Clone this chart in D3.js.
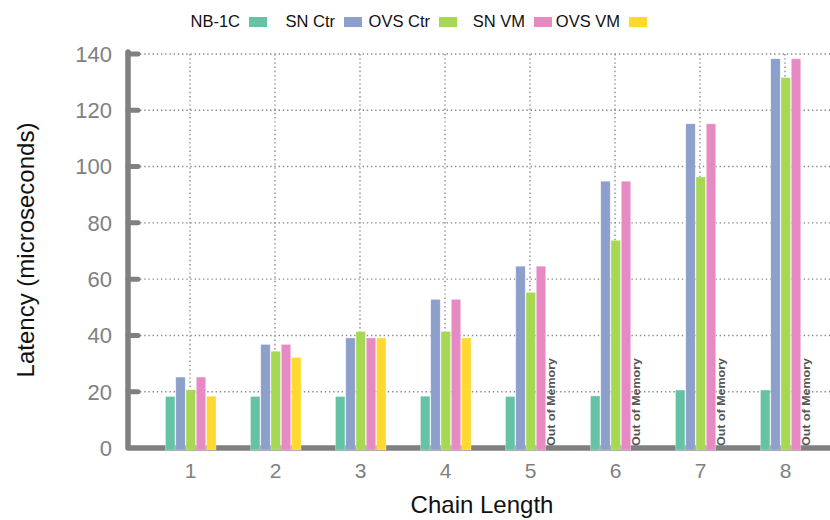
<!DOCTYPE html>
<html>
<head>
<meta charset="utf-8">
<script src="https://cdn.jsdelivr.net/npm/d3@7"></script>
<style>
  html, body { margin: 0; padding: 0; background: #fff; }
  svg { display: block; }
  text { font-family: "Liberation Sans", Arial, Helvetica, sans-serif; }
</style>
</head>
<body>
<svg id="chart" width="830" height="520"></svg>
<script>
const categories = ["1", "2", "3", "4", "5", "6", "7", "8"];
const seriesNames = ["NB-1C", "SN Ctr", "OVS Ctr", "SN VM", "OVS VM"];
const seriesColors = ["#66c2a5", "#8da0cb", "#a6d854", "#e78ac3", "#ffd92f"];
const nb1c   = [18.3, 18.3, 18.3, 18.4, 18.3, 18.5, 20.6, 20.6];
const snCtr  = [25.2, 36.8, 39.1, 52.8, 64.6, 94.8, 115.2, 138.3];
const ovsCtr = [20.7, 34.4, 41.4, 41.4, 55.3, 73.8, 96.3, 131.6];
const snVm   = [25.2, 36.8, 39.1, 52.8, 64.6, 94.8, 115.2, 138.3];
const ovsVm  = [18.4, 32.2, 39.1, 39.1, null, null, null, null];
const yTicks = [0, 20, 40, 60, 80, 100, 120, 140];
const missingLabel = "Out of Memory";

const seriesValues = [nb1c, snCtr, ovsCtr, snVm, ovsVm];

const svg = d3.select("#chart");
const gray = "#808080";

const y = d3.scaleLinear().domain([0, 140]).range([448, 54]);
const x = d3.scaleBand().domain(categories).range([147.5, 827.5]).padding(0);
const xs = d3.scaleBand().domain(seriesNames).range([-24.5, 26]).paddingInner(0.08);

// grid
const grid = svg.append("g");
grid.selectAll("line.h").data(yTicks.filter(d => d > 0)).join("line")
  .attr("x1", 140).attr("x2", 830)
  .attr("y1", d => y(d)).attr("y2", d => y(d))
  .attr("stroke", "#8a8a8a").attr("stroke-width", 1.4)
  .attr("stroke-dasharray", "1.4,2.8");
grid.selectAll("line.v").data(categories).join("line")
  .attr("x1", d => x(d) + x.bandwidth() / 2).attr("x2", d => x(d) + x.bandwidth() / 2)
  .attr("y1", y(140)).attr("y2", y(0))
  .attr("stroke", "#8a8a8a").attr("stroke-width", 1.4)
  .attr("stroke-dasharray", "1.4,2.8");

// axes (thick gray)
const axisG = svg.append("g");
axisG.append("path")
  .attr("d", `M128,${y(140) - 2}L128,${y(0)}L835,${y(0)}`)
  .attr("fill", "none").attr("stroke", gray).attr("stroke-width", 5.5)
  .attr("stroke-linecap", "round").attr("stroke-linejoin", "round");
axisG.selectAll("line.tick").data(yTicks.filter(d => d > 0)).join("line")
  .attr("x1", 128).attr("x2", 138)
  .attr("y1", d => y(d)).attr("y2", d => y(d))
  .attr("stroke", gray).attr("stroke-width", 5).attr("stroke-linecap", "round");
axisG.selectAll("text.ytick").data(yTicks).join("text")
  .attr("x", 112).attr("y", d => y(d)).attr("dy", "0.36em")
  .attr("text-anchor", "end").attr("fill", gray)
  .attr("font-size", 22).text(d => d);
axisG.selectAll("text.xtick").data(categories).join("text")
  .attr("x", d => x(d) + x.bandwidth() / 2 + 0.5).attr("y", 478)
  .attr("text-anchor", "middle").attr("fill", gray)
  .attr("font-size", 21).text(d => d);

// bars
const groups = svg.append("g").selectAll("g").data(categories).join("g")
  .attr("transform", d => `translate(${x(d) + x.bandwidth() / 2},0)`);
groups.each(function(cat, ci) {
  const g = d3.select(this);
  seriesNames.forEach((s, si) => {
    const v = seriesValues[si][ci];
    if (v == null) {
      g.append("text")
        .attr("transform", `translate(${xs(s) + xs.bandwidth() / 2},446) rotate(-90)`)
        .attr("dy", "0.36em")
        .attr("text-anchor", "start")
        .attr("fill", "#555").attr("font-size", 11.5).attr("font-weight", "bold")
        .attr("textLength", 88).attr("lengthAdjust", "spacingAndGlyphs")
        .text(missingLabel);
    } else {
      g.append("rect")
        .attr("x", xs(s)).attr("width", xs.bandwidth())
        .attr("y", y(v)).attr("height", y(0) - y(v) + 2)
        .attr("fill", seriesColors[si])
        .attr("stroke", "#fff").attr("stroke-opacity", 0.5).attr("stroke-width", 0.6);
    }
  });
});

// legend
const legend = svg.append("g");
seriesNames.forEach((s, i) => {
  const sx = 249 + i * 95;
  legend.append("rect").attr("x", sx).attr("y", 17).attr("width", 18).attr("height", 10)
    .attr("fill", seriesColors[i]);
  legend.append("text").attr("x", sx - 9).attr("y", 26.5)
    .attr("text-anchor", "end").attr("font-size", 16.5).attr("fill", "#111")
    .text(s);
});

// axis titles
svg.append("text")
  .attr("transform", `translate(25,250) rotate(-90)`)
  .attr("dy", "0.36em").attr("text-anchor", "middle")
  .attr("font-size", 24).attr("fill", "#111")
  .text("Latency (microseconds)");
svg.append("text")
  .attr("x", 482).attr("y", 513)
  .attr("text-anchor", "middle").attr("font-size", 24).attr("fill", "#111")
  .text("Chain Length");
</script>
</body>
</html>
